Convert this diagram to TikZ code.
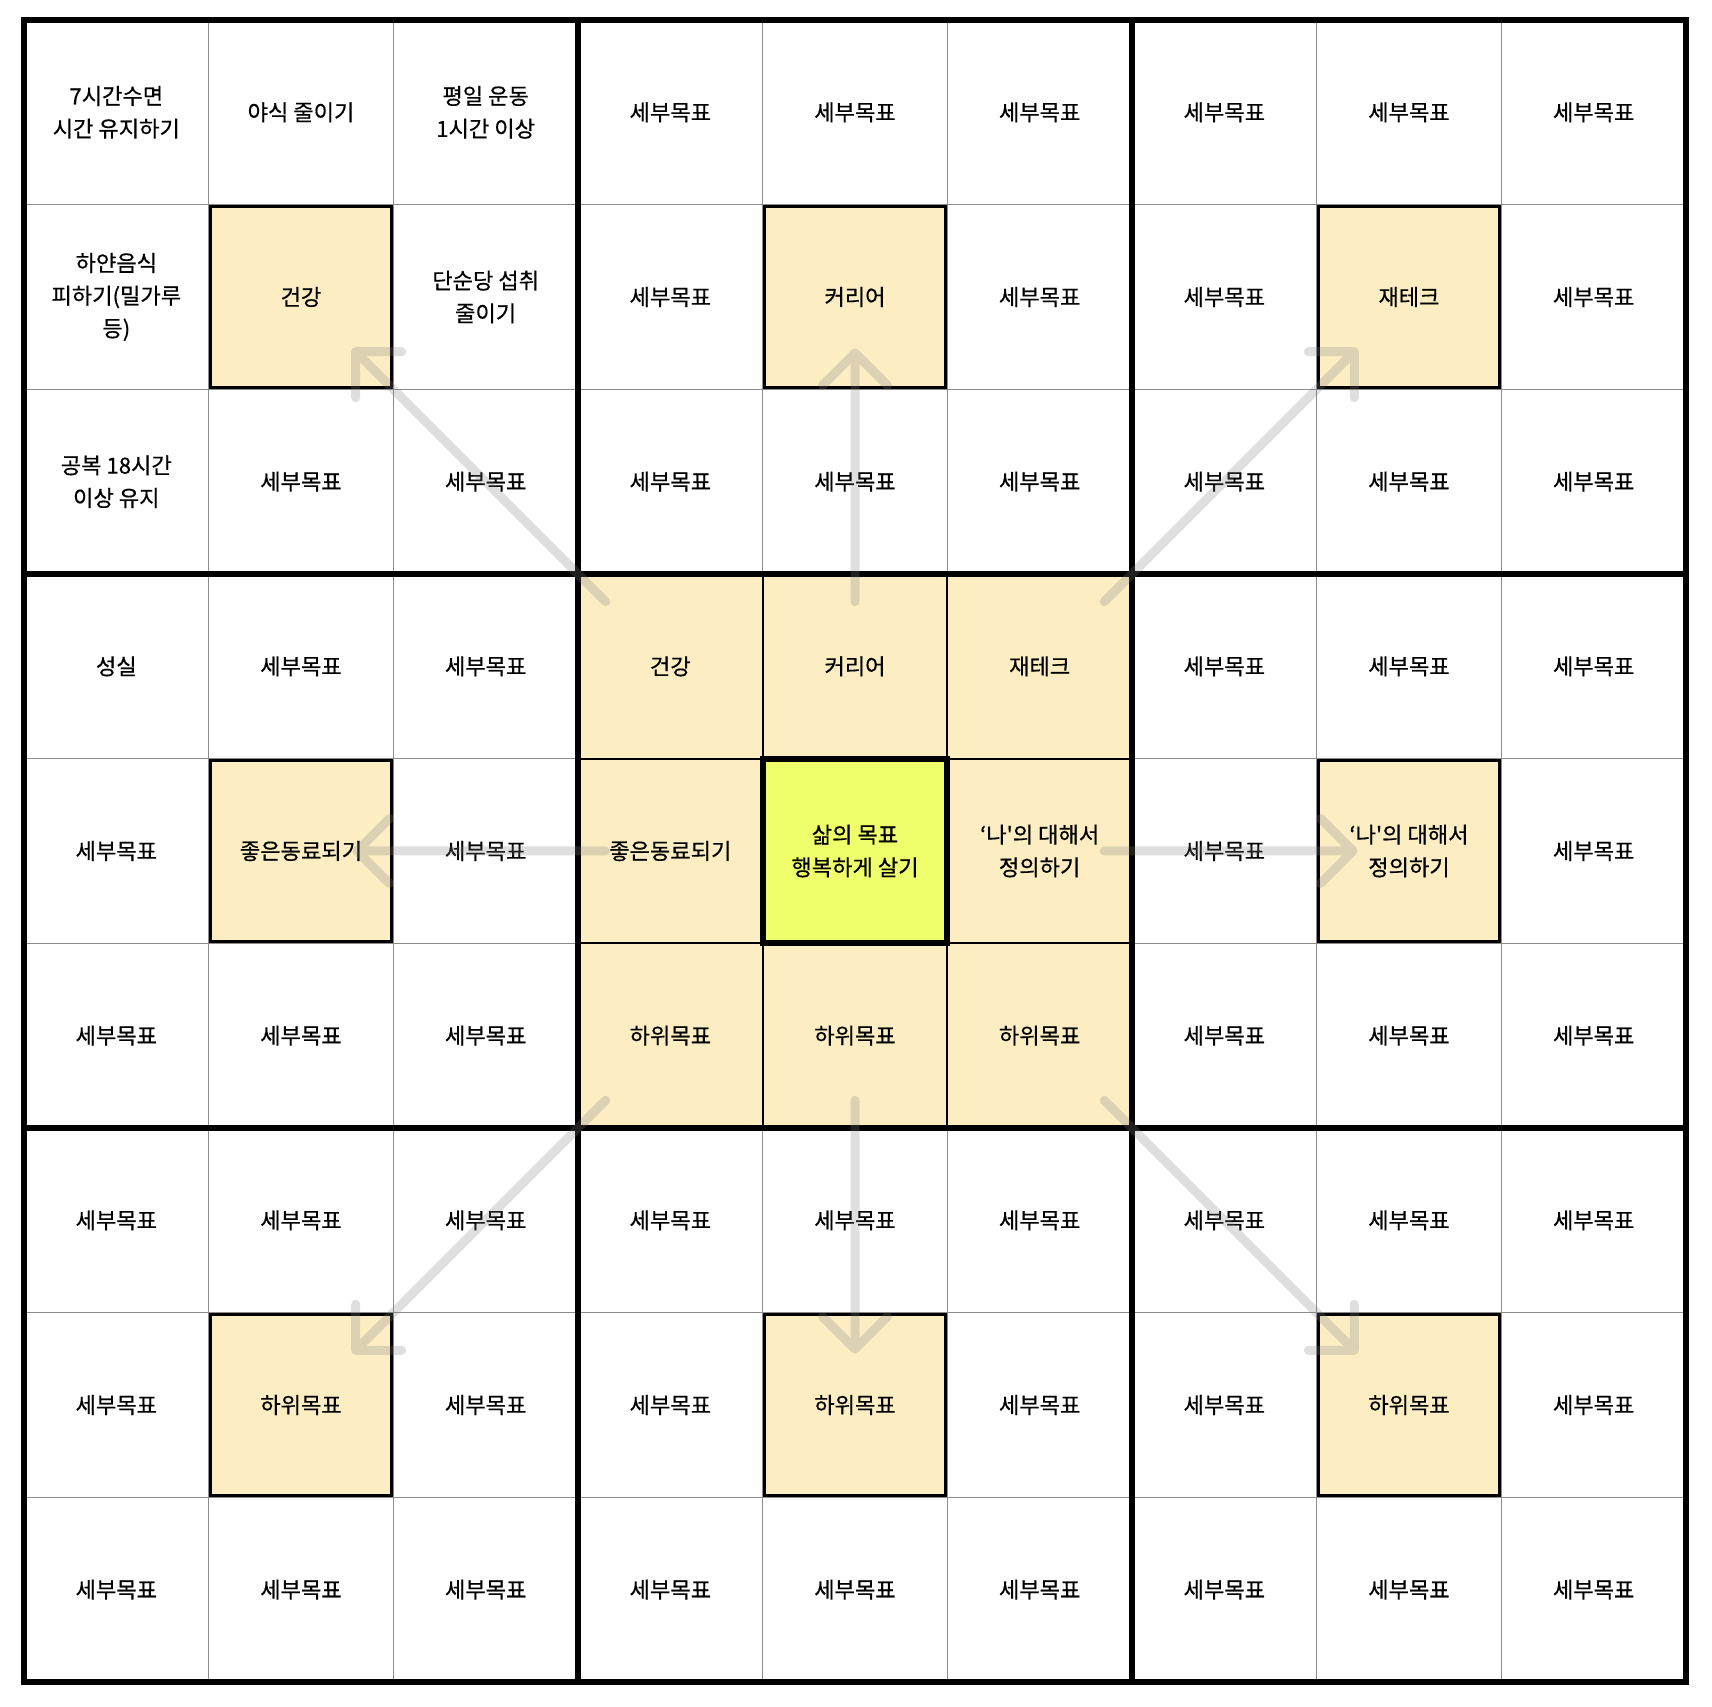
\documentclass[tikz,border=0pt]{standalone}
\usepackage{fontspec}
\newfontfamily\kr[FakeBold=0.5]{Noto Sans CJK KR}
\usepackage{tikz}
\usetikzlibrary{arrows.meta,calc}
\definecolor{sand}{RGB}{252,237,195}
\definecolor{limey}{RGB}{239,255,107}
\def\cs{1.8467cm}
\tikzstyle{cell} = [inner sep=0, outer sep=0, minimum size=\cs, align=center,
    font=\kr\fontsize{6.3pt}{9.3pt}\selectfont]
\tikzstyle{core} = [cell, fill=sand]
\tikzstyle{theme} = [cell, fill=sand, draw, line width=0.03cm, minimum size=\cs-0.03cm]
\tikzstyle{goal} = [cell, fill=limey]
\tikzstyle{minor} = [black!45, line width=0.012cm]
\tikzstyle{coreline} = [black, line width=0.02cm]
\tikzstyle{major} = [black, line width=0.057cm, line cap=rect]
\tikzstyle{connector} = [-{Straight Barb[angle=90:0.46cm, round]}, black!50,
    line width=0.09cm, line cap=round]

\begin{document}
\begin{tikzpicture}[x=\cs, y=\cs]
	\useasboundingbox (-0.24cm,-0.24cm) rectangle ([shift={(0.26cm,0.2cm)}]9,9);
	\def\sb{세부목표}
	
	\draw[minor, step=1] (0,0) grid (9,9);
	
	% rows from top, style/text
	\foreach \row [count=\r] in {
		{cell/{7시간수면\\시간 유지하기}, cell/야식 줄이기, cell/{평일 운동\\1시간 이상}, cell/\sb, cell/\sb, cell/\sb, cell/\sb, cell/\sb, cell/\sb},
		{cell/{하얀음식\\피하기(밀가루\\등)}, theme/건강, cell/{단순당 섭취\\줄이기}, cell/\sb, theme/커리어, cell/\sb, cell/\sb, theme/재테크, cell/\sb},
		{cell/{공복 18시간\\이상 유지}, cell/\sb, cell/\sb, cell/\sb, cell/\sb, cell/\sb, cell/\sb, cell/\sb, cell/\sb},
		{cell/성실, cell/\sb, cell/\sb, core/건강, core/커리어, core/재테크, cell/\sb, cell/\sb, cell/\sb},
		{cell/\sb, theme/좋은동료되기, cell/\sb, core/좋은동료되기, goal/{삶의 목표\\행복하게 살기}, core/{‘나\textquotesingle 의 대해서\\정의하기}, cell/\sb, theme/{‘나\textquotesingle 의 대해서\\정의하기}, cell/\sb},
		{cell/\sb, cell/\sb, cell/\sb, core/하위목표, core/하위목표, core/하위목표, cell/\sb, cell/\sb, cell/\sb},
		{cell/\sb, cell/\sb, cell/\sb, cell/\sb, cell/\sb, cell/\sb, cell/\sb, cell/\sb, cell/\sb},
		{cell/\sb, theme/하위목표, cell/\sb, cell/\sb, theme/하위목표, cell/\sb, cell/\sb, theme/하위목표, cell/\sb},
		{cell/\sb, cell/\sb, cell/\sb, cell/\sb, cell/\sb, cell/\sb, cell/\sb, cell/\sb, cell/\sb}}
		\foreach \sty/\txt [count=\c] in \row
			\node[\sty] (c\r\c) at (\c-0.5, 9.5-\r) {\txt};
	
	\draw[coreline, step=1] (3,3) grid (6,6);
	\draw[major, step=3] (0,0) grid (9,9);
	\draw[major] (c55.south west) rectangle (c55.north east);
	
	\begin{scope}[transparency group, opacity=0.25]
		\foreach \t in {22,25,28,52,58,82,85,88}
			\draw[connector] ($(c55)!0.45!(c\t)$) -- ($(c55)!0.907!(c\t)$);
	\end{scope}
\end{tikzpicture}
\end{document}
